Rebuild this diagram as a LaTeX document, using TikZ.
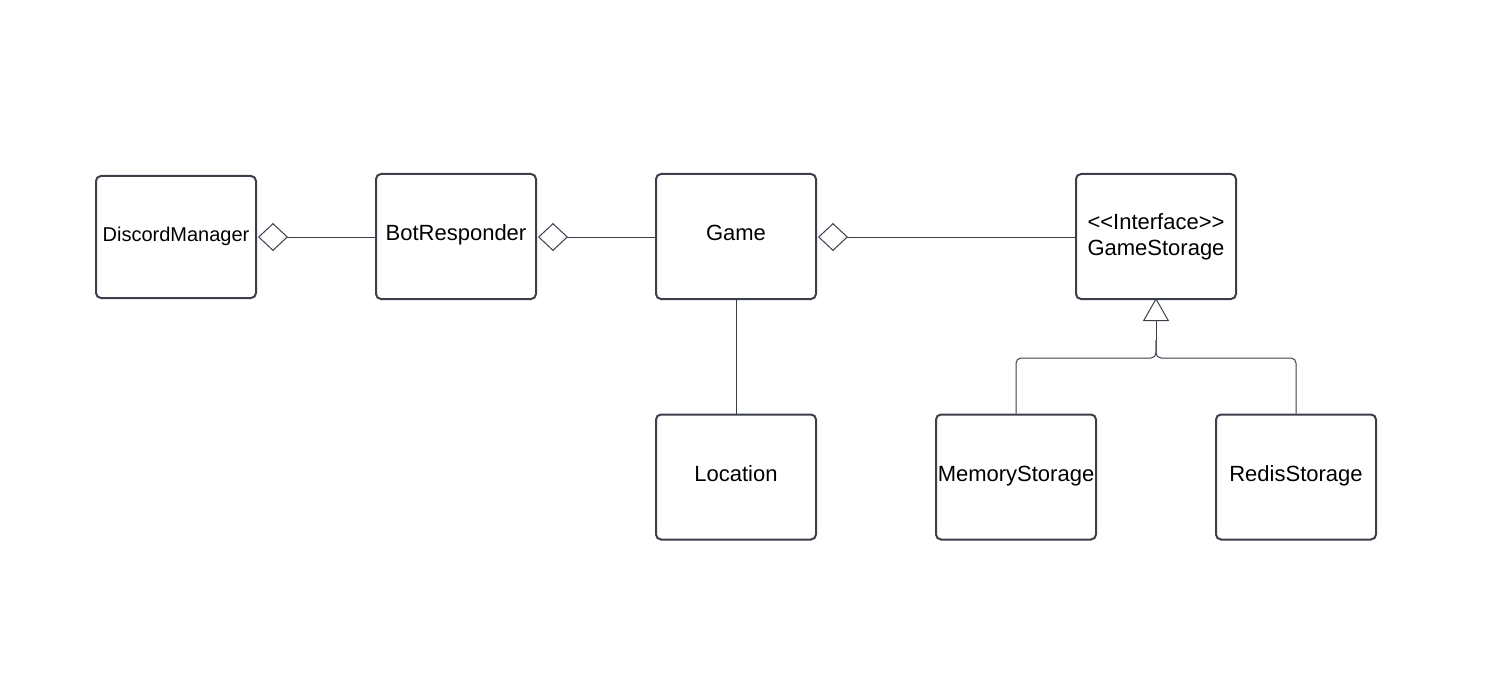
\documentclass[tikz,border=0pt]{standalone}
\usepackage{fontspec}
\setmainfont{Liberation Sans}
\usetikzlibrary{arrows.meta}
\definecolor{lc}{HTML}{3A3F4A}
\begin{document}
\begin{tikzpicture}[x=1pt,y=-1pt,
  cls/.style={draw=lc,line width=2pt,rounded corners=5pt,minimum width=160pt,minimum height=125pt,inner sep=0pt,align=center,font=\fontsize{22pt}{26pt}\selectfont},
  one/.style={text height=16pt,text depth=8pt},
  conn/.style={draw=lc,line width=1pt},
  agg/.style={conn,{Diamond[open,length=30pt,width=28pt,line width=1pt]}-},
  gen/.style={conn,-{Triangle[open,length=23pt,width=26pt,line width=1pt]}}]
\useasboundingbox (0,0) rectangle (1489,682);
\node[cls,one,minimum height=122pt,font=\fontsize{20pt}{24pt}\selectfont] (dm) at (176,237) {DiscordManager};
\node[cls,one] (br) at (456,236.5) {BotResponder};
\node[cls,one] (game) at (736,236.5) {Game};
\node[cls] (gs) at (1156,236.5) {<{}<Interface>{}>\\GameStorage};
\node[cls,one] (loc) at (736,477) {Location};
\node[cls,one] (mem) at (1016,477) {MemoryStorage};
\node[cls,one] (red) at (1296,477) {RedisStorage};
\draw[agg] ([xshift=1pt]dm.east |- 0,237) -- (br.west |- 0,237);
\draw[agg] ([xshift=1pt]br.east |- 0,237) -- (game.west |- 0,237);
\draw[agg] ([xshift=1pt]game.east |- 0,237) -- (gs.west |- 0,237);
\draw[conn] (game.south) -- (loc.north);
\coordinate (j) at (1156,340);
\draw[conn,rounded corners=5pt] (mem.north) |- (1156,358) -- (j);
\draw[conn,rounded corners=5pt] (red.north) |- (1156,358) -- (j);
\draw[gen] (j) -- ([yshift=2pt]gs.south);
\end{tikzpicture}
\end{document}
